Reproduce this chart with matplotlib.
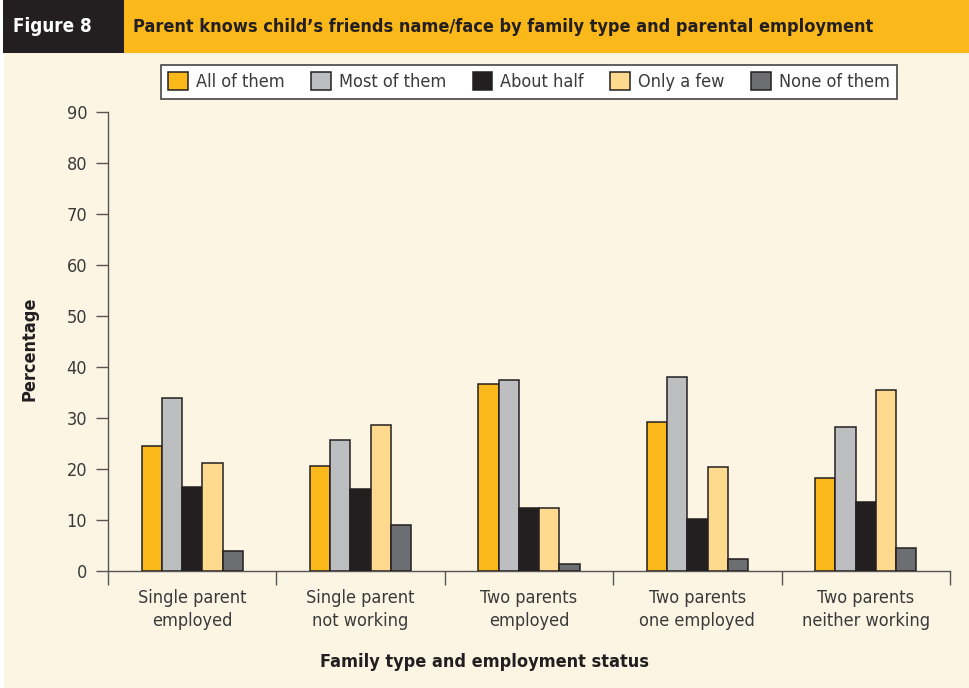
import numpy as np
import matplotlib
matplotlib.use("Agg")
import matplotlib.pyplot as plt
from matplotlib.patches import Rectangle

# narrow face: ask for the condensed stretch of DejaVu
plt.rcParams["font.family"] = ["DejaVu Sans"]
plt.rcParams["font.stretch"] = "condensed"

categories = [
    "Single parent\nemployed",
    "Single parent\nnot working",
    "Two parents\nemployed",
    "Two parents\none employed",
    "Two parents\nneither working",
]
series_names = ["All of them", "Most of them", "About half", "Only a few", "None of them"]
all_of_them = [24.6, 20.6, 36.7, 29.2, 18.3]
most_of_them = [34.0, 25.7, 37.4, 38.1, 28.2]
about_half = [16.5, 16.1, 12.3, 10.1, 13.6]
only_a_few = [21.2, 28.6, 12.4, 20.4, 35.5]
none_of_them = [3.9, 9.1, 1.4, 2.3, 4.6]
yticks = [0, 10, 20, 30, 40, 50, 60, 70, 80, 90]

colors = ["#FBB81A", "#BCBEC0", "#231F20", "#FED98E", "#6D6E71"]
BG = "#FDF5E4"
DARK = "#231F20"
TXT = "#3A3A3A"

fig = plt.figure(figsize=(9.69, 6.88), dpi=100, facecolor="white")
# cream panel, leaving a thin white strip on the left
fig.patches.append(Rectangle((4 / 969, 0), 1, 1, transform=fig.transFigure,
                             facecolor=BG, edgecolor="none", zorder=-10))
# header: dark tag + orange title bar
hb = 1 - 53 / 688
fig.patches.append(Rectangle((3 / 969, hb), 121 / 969, 53 / 688, transform=fig.transFigure,
                             facecolor=DARK, edgecolor="none", zorder=-5))
fig.patches.append(Rectangle((124 / 969, hb), 1, 53 / 688, transform=fig.transFigure,
                             facecolor="#FBB81A", edgecolor="none", zorder=-5))
fig.text(13 / 969, 1 - 27 / 688, "Figure 8", color="white", fontsize=13.5,
         fontweight="bold", va="center", ha="left")
fig.text(133 / 969, 1 - 27 / 688,
         "Parent knows child\u2019s friends name/face by family type and parental employment",
         color=DARK, fontsize=13, fontweight="bold", va="center", ha="left")

ax = fig.add_axes([108 / 969, 1 - 571 / 688, 842 / 969, 459 / 688])
ax.set_facecolor("none")

values = [all_of_them, most_of_them, about_half, only_a_few, none_of_them]
x = np.arange(len(categories))
w = 0.12
for i, (vals, name, c) in enumerate(zip(values, series_names, colors)):
    ax.bar(x + (i - 2) * w, vals, width=w, color=c, edgecolor=DARK,
           linewidth=1.1, label=name, zorder=3)

ax.set_xlim(-0.5, len(categories) - 0.5)
ax.set_ylim(0, 90)
ax.set_yticks(yticks)
ax.tick_params(axis="y", direction="out", length=9, width=1, color="#555555",
               labelsize=13, labelcolor=TXT, pad=6)
ax.set_xticks(np.arange(len(categories) + 1) - 0.5)
ax.set_xticklabels([])
ax.tick_params(axis="x", direction="out", length=10, width=1, color="#555555")
for xi, lab in zip(x, categories):
    ax.text(xi, -3.6, lab, ha="center", va="top", fontsize=13, color=TXT,
            linespacing=1.35)

for s in ["top", "right"]:
    ax.spines[s].set_visible(False)
for s in ["left", "bottom"]:
    ax.spines[s].set_color("#555555")
    ax.spines[s].set_linewidth(1)

ax.set_ylabel("Percentage", fontsize=13, fontweight="bold", color=DARK)
ax.yaxis.set_label_coords(-0.082, 0.485)
fig.text(0.5, 1 - 662 / 688, "Family type and employment status", ha="center",
         va="center", fontsize=13, fontweight="bold", color=DARK)

leg = ax.legend(ncol=5, loc="center", bbox_to_anchor=(0.5, 1.066),
                frameon=True, fancybox=False, fontsize=13, handlelength=1.1,
                handleheight=1.1, columnspacing=1.45, handletextpad=0.45,
                borderpad=0.42, borderaxespad=0, edgecolor="#444444",
                facecolor="white", labelcolor=TXT)
leg.get_frame().set_linewidth(1.2)
leg.get_frame().set_alpha(1)

fig.savefig("out.png", dpi=100, facecolor="white")
